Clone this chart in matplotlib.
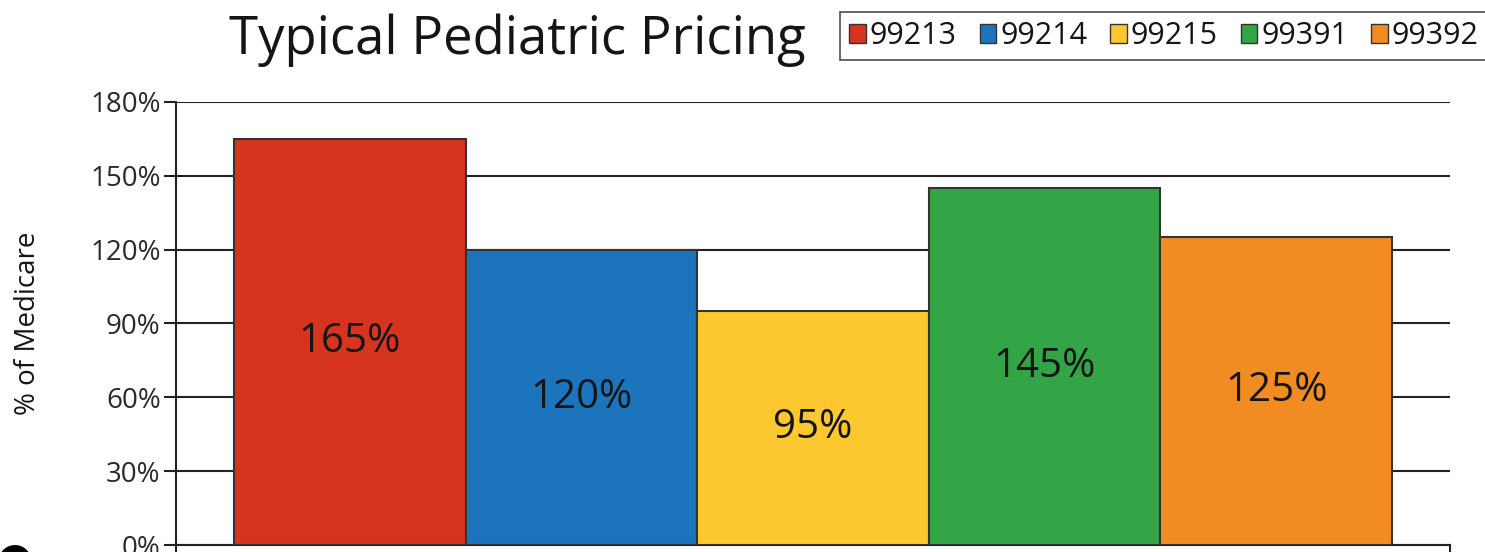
import matplotlib
matplotlib.use("Agg")
import matplotlib.pyplot as plt
from matplotlib.patches import Patch, Ellipse
from matplotlib.lines import Line2D

codes = ["99213", "99214", "99215", "99391", "99392"]
values = [165, 120, 95, 145, 125]
colors = ["#D7341F", "#1C75BC", "#FDC82F", "#33A547", "#F18C22"]
yticks = [0, 30, 60, 90, 120, 150, 180]
ytick_labels = [f"{v}%" for v in yticks]
title = "Typical Pediatric Pricing"
ylabel = "% of Medicare"

FONT = "Open Sans"
TXT = "#151515"
plt.rcParams["font.family"] = [FONT, "DejaVu Sans"]

W, H = 1485, 552
fig = plt.figure(figsize=(W / 100, H / 100), dpi=100)
ax = fig.add_axes([176 / W, 1 - 545 / H, (1450 - 176) / W, (545 - 102) / H])

x = list(range(len(codes)))
ax.bar(x, values, width=1.0, color=colors, edgecolor="#333333", linewidth=1.5, zorder=3)
for xi, v in zip(x, values):
    ax.text(xi, v / 2, f"{v}%", ha="center", va="center", fontsize=29, color=TXT, zorder=4)

ax.set_xlim(-0.75, 4.75)
ax.set_ylim(0, 180)
ax.set_yticks(yticks)
ax.set_yticklabels(ytick_labels, fontsize=20, color="#2a2a2a")
ax.set_xticks([])
ax.yaxis.grid(True, color="#222222", linewidth=1.5, zorder=0)
ax.set_axisbelow(True)
ax.tick_params(axis="y", length=9, width=1.5, color="#222222", pad=2)
for s in ["top", "right"]:
    ax.spines[s].set_visible(False)
for s in ["left", "bottom"]:
    ax.spines[s].set_color("#222222")
    ax.spines[s].set_linewidth(1.5)
# spine stubs extending below the crop
ax.add_line(Line2D([0, 0], [0, -0.05], transform=ax.transAxes, color="#222222", lw=1.5, clip_on=False))
ax.add_line(Line2D([1, 1], [0, -0.05], transform=ax.transAxes, color="#222222", lw=1.5, clip_on=False))

fig.text(14 / W, 1 - 323 / H, ylabel, rotation=90, ha="left", va="center", fontsize=20, color=TXT)
fig.text(517 / W, 1 - 40 / H, title, ha="center", va="center", fontsize=38, color=TXT)

handles = [Patch(facecolor=c, edgecolor="#333333", linewidth=1.0) for c in colors]
leg = fig.legend(handles, codes, loc="upper left", bbox_to_anchor=(840 / W, 1 - 12 / H),
                 ncol=5, frameon=True, fancybox=False, fontsize=22, handlelength=0.55,
                 handleheight=0.55, handletextpad=0.12, columnspacing=0.75, borderpad=0.3,
                 borderaxespad=0)
leg.get_frame().set_edgecolor("#222222")
leg.get_frame().set_linewidth(1.2)
for t in leg.get_texts():
    t.set_color(TXT)

fig.patches.append(Ellipse((15 / W, 1 - 561.5 / H), 33 / W, 33 / H, transform=fig.transFigure,
                           facecolor="black", edgecolor="none"))

fig.savefig("out.png", dpi=100)
